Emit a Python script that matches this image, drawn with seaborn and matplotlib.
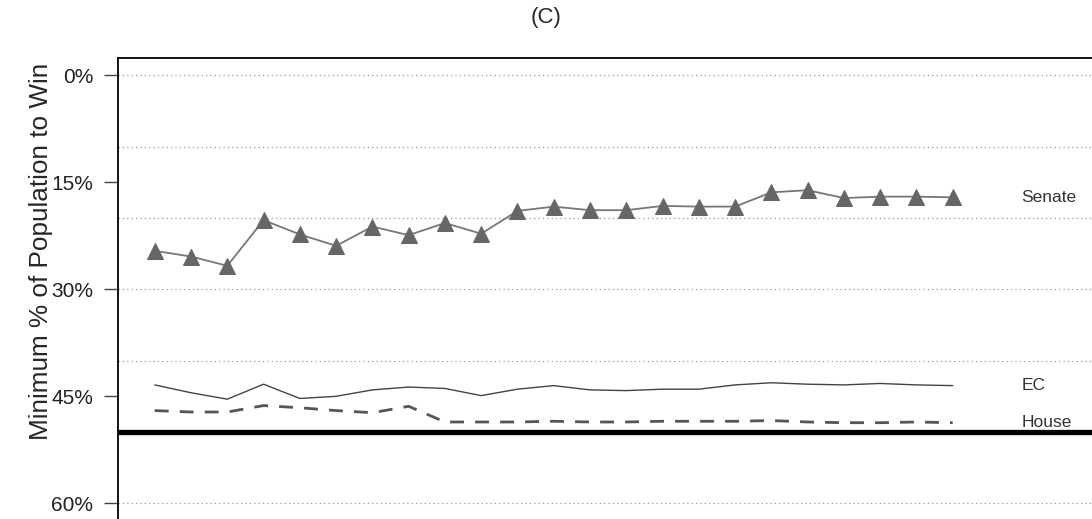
import numpy as np
import pandas as pd
import matplotlib
matplotlib.use('Agg')
import matplotlib.pyplot as plt
import seaborn as sns

# ── data ──────────────────────────────────────────────
years = list(range(1790, 2011, 10))

senate = [24.6, 25.4, 26.7, 20.3, 22.3, 23.9, 21.2, 22.4, 20.7, 22.2,
          19.0, 18.4, 18.9, 18.9, 18.3, 18.4, 18.4, 16.4, 16.1, 17.2,
          17.0, 17.0, 17.1]

ec = [43.4, 44.5, 45.4, 43.3, 45.3, 45.0, 44.1, 43.7, 43.9, 44.9,
      44.0, 43.5, 44.1, 44.2, 44.0, 44.0, 43.4, 43.1, 43.3, 43.4,
      43.2, 43.4, 43.5]

house = [47.0, 47.2, 47.2, 46.3, 46.6, 47.0, 47.3, 46.4, 48.6, 48.6,
         48.6, 48.5, 48.6, 48.6, 48.5, 48.5, 48.5, 48.4, 48.6, 48.7,
         48.7, 48.6, 48.7]

series_names = ["Senate", "EC", "House"]
ytick_vals = [0, 15, 30, 45, 60]
grid_vals = [0, 10, 20, 30, 40, 60]
majority = 50

df = pd.DataFrame({"year": years, "Senate": senate, "EC": ec, "House": house})

# ── style ─────────────────────────────────────────────
sns.set_style("white")
plt.rcParams['font.family'] = ['Liberation Sans', 'DejaVu Sans']

fig = plt.figure(figsize=(10.92, 5.19), dpi=100)
# axes run a little past the bottom edge (x axis is cut off like the original)
ax = fig.add_axes([0.1085, -0.0027, 0.93, 0.8904])

for g in grid_vals:
    ax.axhline(g, color='#999999', linestyle=(0, (1, 2.5)), linewidth=0.9, zorder=1)
ax.axhline(majority, color='black', linewidth=3.8, zorder=2)

sns.lineplot(data=df, x="year", y="Senate", ax=ax, color='#777777', linewidth=1.3,
             marker='^', markersize=11, markerfacecolor='#666666',
             markeredgecolor='#666666', zorder=3)
sns.lineplot(data=df, x="year", y="EC", ax=ax, color='#444444', linewidth=1.0, zorder=3)
sns.lineplot(data=df, x="year", y="House", ax=ax, color='#555555', linewidth=2.0,
             linestyle=(0, (5, 4)), zorder=3)

# end labels
for name in series_names:
    ax.text(2029, df[name].iloc[-1], name, ha='left', va='center',
            fontsize=12.5, color='#333333')

ax.set_xlim(1780, 2060)
ax.set_ylim(62.4, -2.4)
ax.set_yticks(ytick_vals)
ax.set_yticklabels([f"{v}%" for v in ytick_vals], fontsize=15, color='#222222')
ax.set_xticks([])
ax.set_xlabel("")
ax.set_ylabel("Minimum % of Population to Win", fontsize=18.8)
ax.yaxis.set_label_coords(-0.0645, 0.583)
ax.tick_params(axis='y', left=True, length=10, width=1, color='#444444', pad=8)

for s in ['left', 'top']:
    ax.spines[s].set_color('black')
    ax.spines[s].set_linewidth(1.3)
ax.spines['right'].set_visible(False)
ax.spines['bottom'].set_visible(False)

fig.text(0.5, 0.967, "(C)", ha='center', va='center', fontsize=16)

plt.savefig("out.png", dpi=100)
plt.close()
